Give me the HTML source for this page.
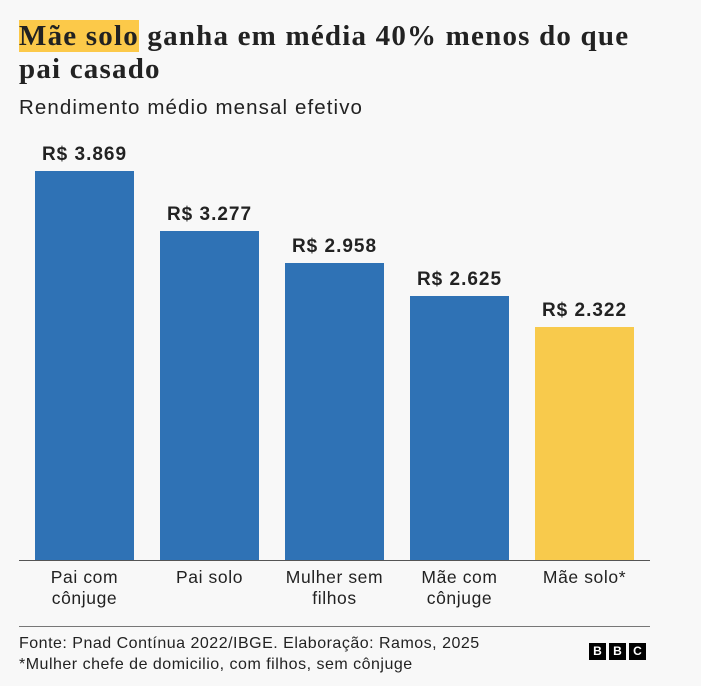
<!DOCTYPE html>
<html><head><meta charset="utf-8"><style>
body{margin:0;width:701px;height:686px;background:#f8f8f8;position:relative;overflow:hidden;font-family:"Liberation Sans",sans-serif;color:#222}
.a{position:absolute}
.t{font-family:"Liberation Serif",serif;font-weight:bold;font-size:29px;letter-spacing:1.2px;line-height:33px;left:19px;top:20px;color:#222;white-space:nowrap}
.hl{background:#fcc949}
.bar{position:absolute;width:99px;bottom:126px}
.v{position:absolute;width:125px;text-align:center;font-weight:bold;font-size:19px;letter-spacing:1px}
.l{position:absolute;width:125px;text-align:center;font-size:17.5px;letter-spacing:0.6px;line-height:21px;top:567px}
.b{position:absolute;top:643px;width:17px;height:17px;background:#000;color:#fff;font-weight:bold;font-size:12px;text-align:center;line-height:17px}
</style></head><body>
<div class="a t"><span class="hl">Mãe solo</span> ganha em média 40% menos do que<br>pai casado</div>
<div class="a" style="left:19px;top:96px;font-size:20.5px;letter-spacing:1.1px">Rendimento médio mensal efetivo</div>
<div class="bar" style="left:35px;top:171px;background:#2f72b5"></div>
<div class="bar" style="left:160px;top:231px;background:#2f72b5"></div>
<div class="bar" style="left:285px;top:263px;background:#2f72b5"></div>
<div class="bar" style="left:410px;top:296px;background:#2f72b5"></div>
<div class="bar" style="left:535px;top:327px;background:#f8ca4c"></div>
<div class="v" style="left:22px;top:144px">R$ 3.869</div>
<div class="v" style="left:147px;top:204px">R$ 3.277</div>
<div class="v" style="left:272px;top:236px">R$ 2.958</div>
<div class="v" style="left:397px;top:269px">R$ 2.625</div>
<div class="v" style="left:522px;top:300px">R$ 2.322</div>
<div class="a" style="left:19px;top:560px;width:631px;height:1px;background:#555"></div>
<div class="l" style="left:22px">Pai com<br>cônjuge</div>
<div class="l" style="left:147px">Pai solo</div>
<div class="l" style="left:272px">Mulher sem<br>filhos</div>
<div class="l" style="left:397px">Mãe com<br>cônjuge</div>
<div class="l" style="left:522px">Mãe solo*</div>
<div class="a" style="left:19px;top:626px;width:631px;height:1px;background:#777"></div>
<div class="a" style="left:19px;top:633px;font-size:16px;letter-spacing:0.5px;line-height:21px">Fonte: Pnad Contínua 2022/IBGE. Elaboração: Ramos, 2025<br>*Mulher chefe de domicilio, com filhos, sem cônjuge</div>
<div class="b" style="left:589px">B</div><div class="b" style="left:609px">B</div><div class="b" style="left:629px">C</div>
</body></html>
